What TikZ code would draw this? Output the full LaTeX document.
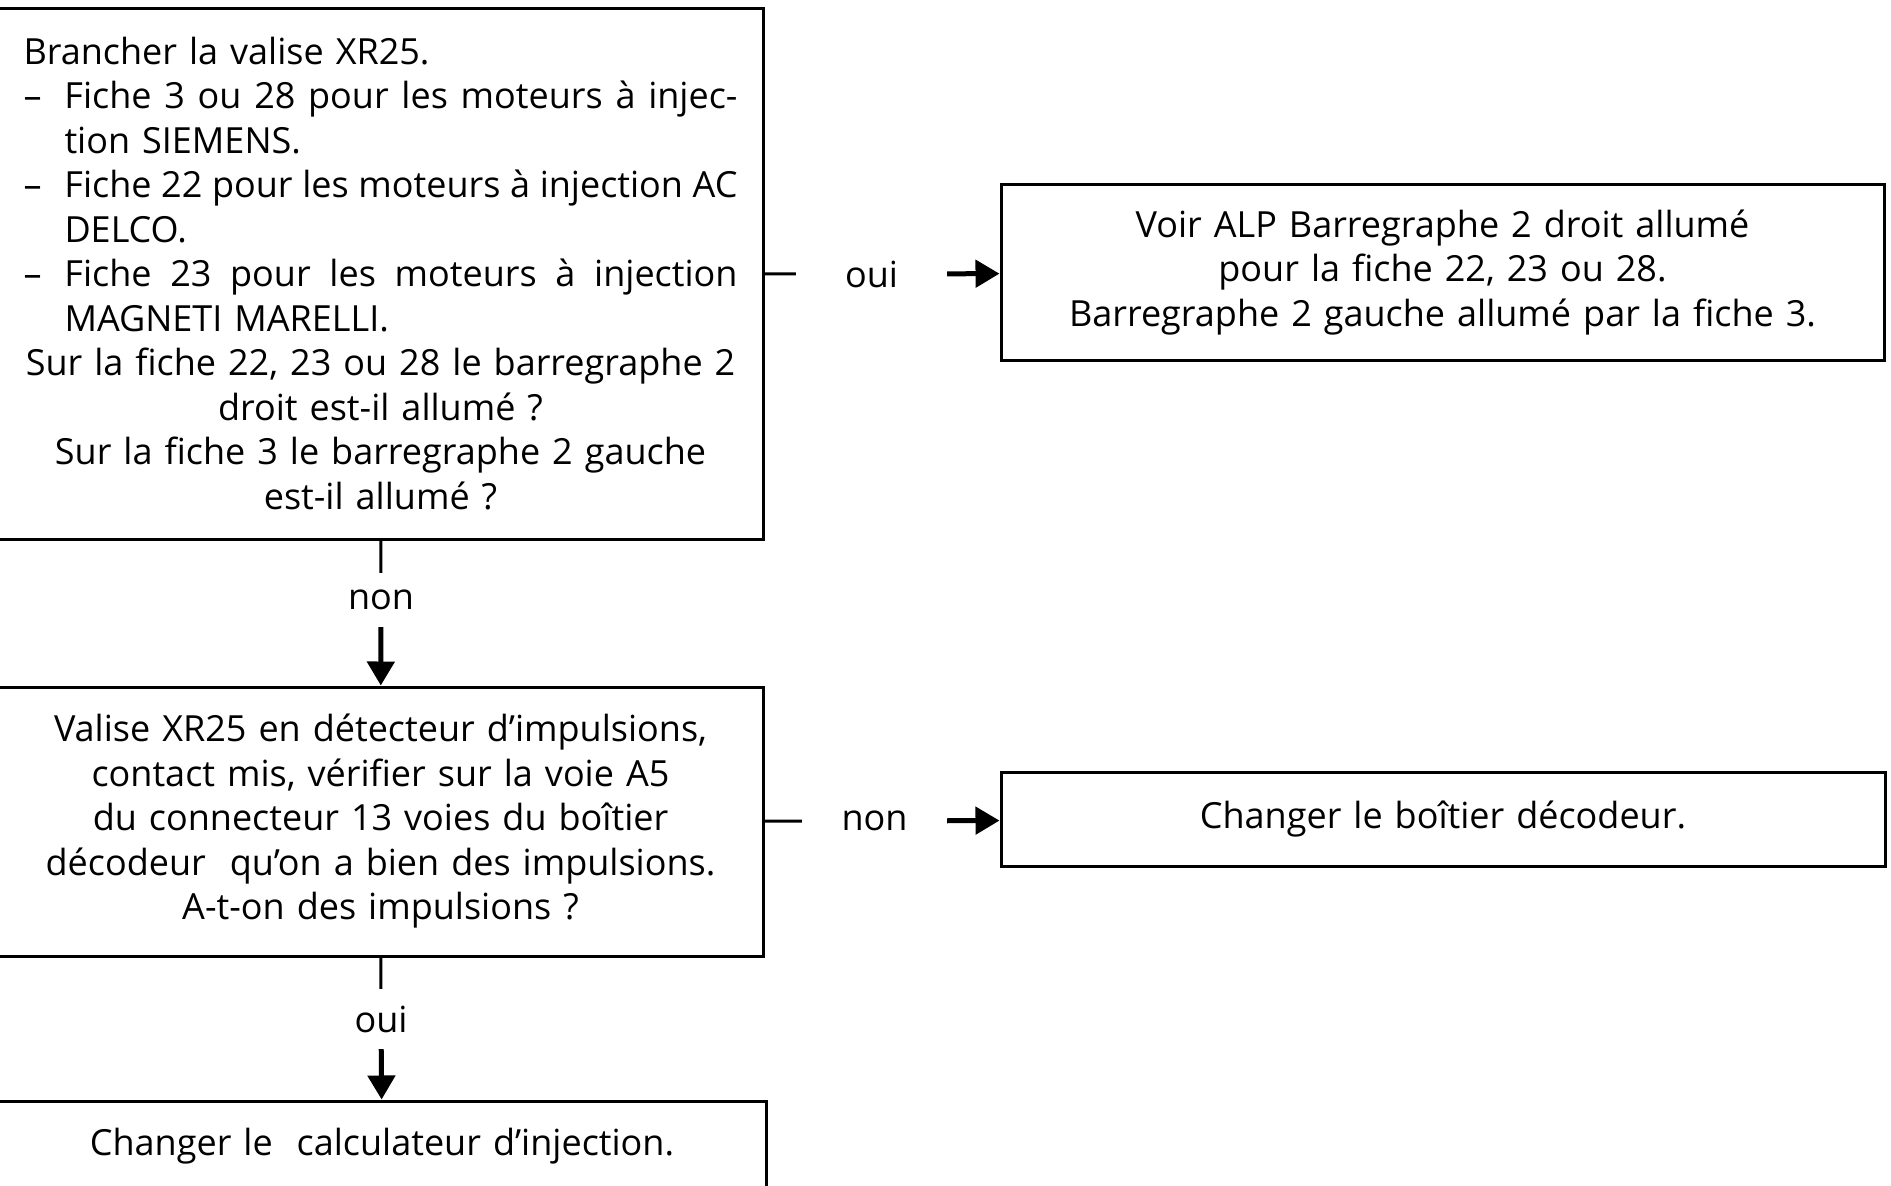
\documentclass[tikz,border=0pt]{standalone}
\usepackage{fontspec}
\setmainfont{Open Sans}
\usetikzlibrary{arrows.meta}
\newcommand{\boxfont}{\fontsize{36}{44.5}\selectfont}
% a justified line: interword spaces narrowed, then stretched to fill the width
\newcommand{\justline}[2]{\hbox to #1{\spaceskip=0.17em plus 1fil\relax #2}}
\begin{document}
\begin{tikzpicture}[x=1pt,y=-1pt,
  box/.style={draw, line width=3pt, inner sep=0pt, font=\boxfont},
  lbl/.style={inner sep=0pt, font=\boxfont},
  hgap/.style={lbl, minimum width=#1},
  vgap/.style={lbl, minimum height=#1},
  plain/.style={line width=3pt},
  arrow/.style={line width=5pt, -{Triangle[length=24pt,width=27pt]}}]
\useasboundingbox (0,0) rectangle (1891,1186);

% question: connect the XR25 tester
\node[box, minimum width=765pt, minimum height=531pt, text width=714pt, align=left]
  (q1) at (380.5,273.5) {%
  \makebox[714pt][l]{Brancher la valise XR25.}\\
  \makebox[41pt][l]{–}\justline{673pt}{Fiche 3 ou 28 pour les moteurs à injec-}\\
  \hspace*{41pt}tion SIEMENS.\\
  \makebox[41pt][l]{–}\justline{673pt}{Fiche 22 pour les moteurs à injection AC}\\
  \hspace*{41pt}DELCO.\\
  \makebox[41pt][l]{–}\justline{673pt}{Fiche 23 pour les moteurs à injection}\\
  \hspace*{41pt}MAGNETI MARELLI.\\
  \makebox[714pt]{Sur la fiche 22, 23 ou 28 le barregraphe 2}\\
  \makebox[714pt]{droit est-il allumé ?}\\
  \makebox[714pt]{Sur la fiche 3 le barregraphe 2 gauche}\\
  \makebox[714pt]{est-il allumé ?}};

% outcome: see ALP
\node[box, minimum width=883pt, minimum height=176pt, text width=860pt, align=center]
  (a1) at (1442.5,272.5) {Voir ALP Barregraphe 2 droit allumé\\
  pour la fiche 22, 23 ou 28.\\
  Barregraphe 2 gauche allumé par la fiche 3.};

% question: pulse detection
\node[box, minimum width=765pt, minimum height=269pt, text width=714pt, align=center]
  (q2) at (380.5,821.5) {Valise XR25 en détecteur d’impulsions,\\
  contact mis, vérifier sur la voie A5\\
  du connecteur 13 voies du boîtier\\
  décodeur\ \ qu’on a bien des impulsions.\\
  A-t-on des impulsions ?};

% outcome: replace the decoder unit
\node[box, minimum width=884pt, minimum height=94pt, text width=860pt, align=center]
  (a2) at (1443,819) {Changer le boîtier décodeur.};

% outcome: replace the injection computer
\node[box, minimum width=768pt, minimum height=90pt, text width=714pt, align=center]
  (a3) at (382,1146) {Changer le\ \ calculateur d’injection.};

% branch labels
\node[hgap=151pt] (l1) at (871.5,274) {oui};
\node[vgap=54pt]  (l2) at (381,600) {non};
\node[hgap=145pt] (l3) at (874.5,821) {non};
\node[vgap=60pt]  (l4) at (381,1019) {oui};

% connectors
\draw[plain] (q1) -- (l1);  \draw[arrow] (l1) -- (a1);
\draw[plain] (q1) -- (l2);  \draw[arrow] (l2) -- (q2);
\draw[plain] (q2) -- (l3);  \draw[arrow] (l3) -- (a2);
\draw[plain] (q2) -- (l4);  \draw[arrow] (l4) -- (a3);
\end{tikzpicture}
\end{document}
